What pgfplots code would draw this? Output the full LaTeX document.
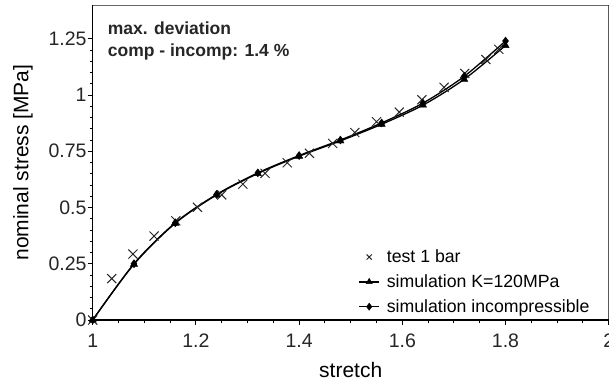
\documentclass[border=0pt]{standalone}
\usepackage{fontspec}
\setmainfont{Liberation Sans}
\usepackage{pgfplots}
\pgfplotsset{compat=1.18}

% Simulation with compressible material, bulk modulus K = 120 MPa
\pgfplotstableread{
x y
1.00 0
1.08 0.248
1.16 0.430
1.24 0.556
1.32 0.651
1.40 0.728
1.48 0.796
1.56 0.870
1.64 0.955
1.72 1.070
1.80 1.220
}\simcomp

% Simulation with incompressible material
\pgfplotstableread{
x y
1.00 0
1.08 0.250
1.16 0.432
1.24 0.558
1.32 0.654
1.40 0.731
1.48 0.800
1.56 0.876
1.64 0.964
1.72 1.083
1.80 1.240
}\simincomp

% Uniaxial test at 1 bar
\pgfplotstableread{
x y
1.000 0
1.037 0.184
1.078 0.293
1.119 0.373
1.161 0.441
1.203 0.501
1.250 0.556
1.291 0.604
1.334 0.652
1.377 0.699
1.420 0.741
1.465 0.785
1.508 0.833
1.550 0.881
1.594 0.924
1.638 0.979
1.681 1.034
1.721 1.096
1.762 1.158
1.787 1.203
}\testdata

\begin{document}
\begin{tikzpicture}
\begin{axis}[
  scale only axis,
  width=516pt, height=315pt,
  xmin=1, xmax=2, ymin=0, ymax=1.4,
  axis x line*=bottom, axis y line*=left,
  axis line style={line width=1.2pt, black},
  xtick={1,1.2,1.4,1.6,1.8,2},
  xticklabels={1,1.2,1.4,1.6,1.8,2},
  ytick={0,0.25,0.5,0.75,1,1.25},
  yticklabels={0,0.25,0.5,0.75,1,1.25},
  minor x tick num=3, minor y tick num=4,
  tick align=outside,
  major tick length=5pt, minor tick length=3pt,
  tick style={line width=0.9pt, black},
  /pgf/number format/assume math mode=true,
  tick label style={font=\fontsize{19.5}{22}\selectfont, inner sep=1pt, text=black!85},
  xticklabel style={anchor=base, yshift=-22pt},
  xlabel={stretch},
  ylabel={nominal stress [MPa]},
  label style={font=\fontsize{21}{25}\selectfont},
  xlabel style={at={(axis description cs:0.5,0)}, anchor=base, yshift=-57.3pt},
  ylabel style={at={(axis description cs:-0.135,0.5)}, anchor=center, rotate=0},
  legend style={draw=none, fill=none, at={(rel axis cs:0.509,0.236)}, anchor=north west,
    font=\fontsize{17.7}{21}\selectfont, row sep=6.5pt, column sep=5pt,
    cells={anchor=west}},
  legend image code/.code={\draw[mark repeat=2, mark phase=2, #1]
    plot coordinates {(0pt,0pt) (10pt,0pt) (20pt,0pt)};},
  legend image post style={mark size=3.6pt},
]
\addplot[only marks, mark=x, mark size=6.4pt, mark options={line width=1pt, black!85}]
  table[x=x, y=y] {\testdata};
\addlegendentry{test 1 bar}
\addplot[smooth, line width=1.3pt, black, mark=triangle*, mark size=4.2pt,
  mark options={solid, line width=0.4pt}]
  table[x=x, y=y] {\simcomp};
\addlegendentry{simulation K=120MPa}
\addplot[smooth, line width=1.3pt, black, mark=diamond*, mark size=4pt,
  mark options={solid, line width=0.4pt}]
  table[x=x, y=y] {\simincomp};
\addlegendentry{simulation incompressible}

% upper and right frame lines
\draw[line width=1.6pt, black!60] (rel axis cs:0,1) -- (rel axis cs:1,1);
\draw[line width=1.2pt, black] (rel axis cs:1,0) -- (rel axis cs:1,1);

\node[anchor=base west, font=\fontsize{17.5}{21}\selectfont\bfseries, text=black!85]
  at (axis cs:1.0225,1.2667) {max. deviation};
\node[anchor=base west, font=\fontsize{17.5}{21}\selectfont\bfseries, text=black!85]
  at (axis cs:1.0225,1.169) {comp - incomp: 1.4 \%};

\coordinate (O) at (rel axis cs:0,0);
\end{axis}
\pgfresetboundingbox
\path ([shift={(-92.7pt,-64pt)}]O) rectangle ([shift={(516.3pt,320pt)}]O);
\end{tikzpicture}
\end{document}
